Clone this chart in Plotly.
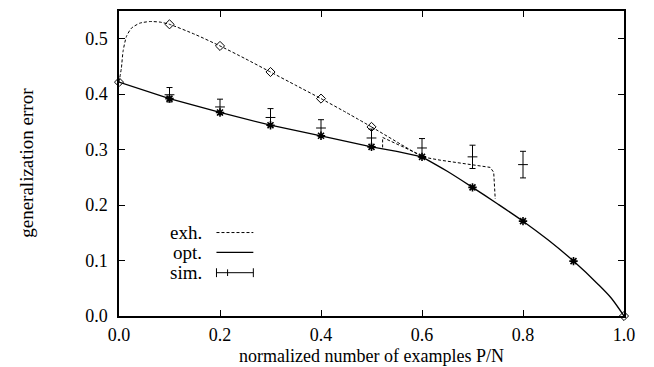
import plotly.graph_objects as go

# ---- data ----
# exhaustive search (dashed), smooth rising part up to P/N=0.5
exh_x = [0.0, 0.0047, 0.008, 0.0147, 0.0246, 0.041, 0.061, 0.081, 0.1, 0.15, 0.2, 0.25, 0.3, 0.35, 0.4, 0.45, 0.5]
exh_y = [0.4217, 0.447, 0.477, 0.504, 0.519, 0.528, 0.531, 0.530, 0.526, 0.508, 0.487, 0.464, 0.440, 0.416, 0.392, 0.367, 0.341]
# exhaustive search, continuation after 0.5
exh2_x = [0.5, 0.6, 0.636, 0.70, 0.735, 0.742, 0.745]
exh2_y = [0.341, 0.287, 0.281, 0.273, 0.268, 0.259, 0.211]
# exhaustive search, side branch near 0.52
exh3_x = [0.522, 0.522, 0.56, 0.6]
exh3_y = [0.304, 0.322, 0.306, 0.289]
# exhaustive marker points (diamonds)
exh_pt_x = [0.0, 0.1, 0.2, 0.3, 0.4, 0.5, 1.0]
exh_pt_y = [0.4217, 0.526, 0.487, 0.440, 0.392, 0.341, 0.0]

# optimal (solid): linear part up to the kink at 0.6, smooth part after it
opt_x = [0.0, 0.1, 0.2, 0.3, 0.4, 0.5, 0.55, 0.6]
opt_y = [0.4217, 0.392, 0.367, 0.344, 0.325, 0.305, 0.297, 0.287]
opt2_x = [0.6, 0.65, 0.7, 0.75, 0.8, 0.85, 0.9, 0.95, 0.975, 1.0]
opt2_y = [0.287, 0.261, 0.232, 0.202, 0.171, 0.137, 0.099, 0.056, 0.032, 0.0]
opt_pt_x = [0.1, 0.2, 0.3, 0.4, 0.5, 0.6, 0.7, 0.8, 0.9]
opt_pt_y = [0.392, 0.367, 0.344, 0.325, 0.305, 0.287, 0.232, 0.171, 0.099]

# simulations (error bars)
sim_x = [0.1, 0.2, 0.3, 0.4, 0.5, 0.6, 0.7, 0.8]
sim_y = [0.399, 0.377, 0.358, 0.339, 0.321, 0.303, 0.287, 0.273]
sim_err = [0.013, 0.014, 0.016, 0.015, 0.016, 0.017, 0.021, 0.024]

x_ticks = [0.0, 0.2, 0.4, 0.6, 0.8, 1.0]
y_ticks = [0.0, 0.1, 0.2, 0.3, 0.4, 0.5]

legend_labels = ["exh.", "opt.", "sim."]

FONT = "Liberation Serif"
dash = "3px,2px"

fig = go.Figure()
fig.add_trace(go.Scatter(x=exh_x, y=exh_y, mode="lines", line=dict(color="black", width=1, dash=dash, shape="spline", smoothing=0.6), showlegend=False, cliponaxis=False))
fig.add_trace(go.Scatter(x=exh2_x, y=exh2_y, mode="lines", line=dict(color="black", width=1, dash=dash), showlegend=False, cliponaxis=False))
fig.add_trace(go.Scatter(x=exh3_x, y=exh3_y, mode="lines", line=dict(color="black", width=1, dash=dash), showlegend=False, cliponaxis=False))
fig.add_trace(go.Scatter(x=opt_x, y=opt_y, mode="lines", line=dict(color="black", width=1.3), showlegend=False, cliponaxis=False))
fig.add_trace(go.Scatter(x=opt2_x, y=opt2_y, mode="lines", line=dict(color="black", width=1.3, shape="spline", smoothing=0.8), showlegend=False, cliponaxis=False))
fig.add_trace(go.Scatter(x=exh_pt_x, y=exh_pt_y, mode="markers", marker=dict(symbol="diamond-open", size=7, color="black", line=dict(width=1, color="black")), showlegend=False, cliponaxis=False))
fig.add_trace(go.Scatter(x=opt_pt_x, y=opt_pt_y, mode="markers", marker=dict(symbol="asterisk-open", size=7, color="black", line=dict(width=1.6, color="black")), showlegend=False, cliponaxis=False))
fig.add_trace(go.Scatter(x=sim_x, y=sim_y, mode="markers",
                         marker=dict(symbol="line-ew", size=7, color="black", line=dict(width=1, color="black")),
                         error_y=dict(type="data", array=sim_err, visible=True, color="black", thickness=1, width=3),
                         showlegend=False, cliponaxis=False))

# legend drawn gnuplot-style (text then sample) in data coordinates
leg_y = [0.1505, 0.1147, 0.0781]
leg_text_x = 0.168
leg_x0, leg_x1 = 0.193, 0.266
shapes = [
    dict(type="line", xref="x", yref="y", x0=leg_x0, x1=leg_x1, y0=leg_y[0], y1=leg_y[0], line=dict(color="black", width=1, dash=dash)),
    dict(type="line", xref="x", yref="y", x0=leg_x0, x1=leg_x1, y0=leg_y[1], y1=leg_y[1], line=dict(color="black", width=1.3)),
    dict(type="line", xref="x", yref="y", x0=leg_x0, x1=leg_x1, y0=leg_y[2], y1=leg_y[2], line=dict(color="black", width=1)),
    dict(type="line", xref="x", yref="y", x0=leg_x0, x1=leg_x0, y0=leg_y[2] - 0.008, y1=leg_y[2] + 0.008, line=dict(color="black", width=1)),
    dict(type="line", xref="x", yref="y", x0=leg_x1, x1=leg_x1, y0=leg_y[2] - 0.008, y1=leg_y[2] + 0.008, line=dict(color="black", width=1)),
    dict(type="line", xref="x", yref="y", x0=0.215, x1=0.215, y0=leg_y[2] - 0.006, y1=leg_y[2] + 0.006, line=dict(color="black", width=1)),
]
annotations = [
    dict(x=leg_text_x, y=yv, xref="x", yref="y", text=t, showarrow=False, xanchor="right", yanchor="middle",
         font=dict(family=FONT, size=19, color="black"))
    for t, yv in zip(legend_labels, leg_y)
]
annotations += [
    dict(x=0.5, y=-0.131, xref="paper", yref="paper", text="normalized number of examples P/N", showarrow=False,
         xanchor="center", yanchor="middle", font=dict(family=FONT, size=18, color="black")),
    dict(x=-0.183, y=0.501, xref="paper", yref="paper", text="generalization error", showarrow=False, textangle=-90,
         xanchor="center", yanchor="middle", font=dict(family=FONT, size=19, color="black")),
]

axis_common = dict(showgrid=False, zeroline=False, showline=True, linecolor="black", linewidth=1.5, mirror="ticks",
                   ticks="inside", ticklen=6, tickwidth=1.2, tickcolor="black",
                   tickfont=dict(family=FONT, size=18, color="black"))
fig.update_layout(
    width=654, height=367,
    margin=dict(l=119, r=30, t=9, b=51),
    paper_bgcolor="white", plot_bgcolor="white",
    xaxis=dict(range=[0, 1], tickvals=x_ticks, ticktext=[f"{v:.1f}" for v in x_ticks], ticklabelstandoff=2, **axis_common),
    yaxis=dict(range=[0, 0.55], tickvals=y_ticks, ticktext=[f"{v:.1f}" for v in y_ticks], ticklabelstandoff=6, **axis_common),
    shapes=shapes, annotations=annotations, showlegend=False,
)
fig.write_html("out.html")
